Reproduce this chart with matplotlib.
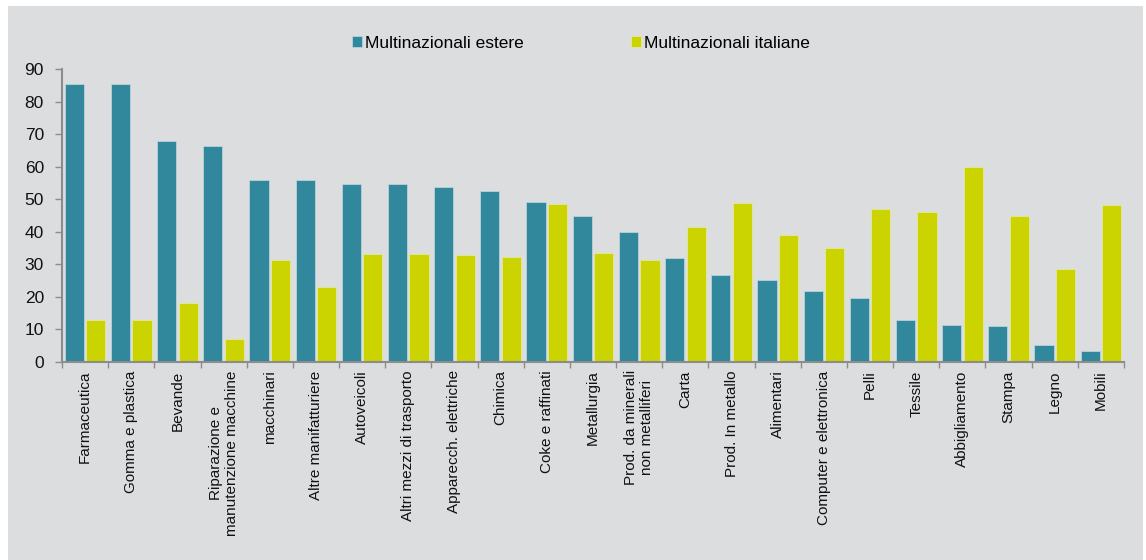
import numpy as np
import matplotlib.pyplot as plt
from matplotlib.patches import Rectangle

plt.rcParams['font.family'] = ['Liberation Sans', 'DejaVu Sans']

settori = ['Farmaceutica', 'Gomma e plastica', 'Bevande',
           'Riparazione e\nmanutenzione macchine', 'macchinari',
           'Altre manifatturiere', 'Autoveicoli', 'Altri mezzi di trasporto',
           'Apparecch. elettriche', 'Chimica', 'Coke e raffinati',
           'Metallurgia', 'Prod. da minerali\nnon metalliferi', 'Carta',
           'Prod. In metallo', 'Alimentari', 'Computer e elettronica',
           'Pelli', 'Tessile', 'Abbigliamento', 'Stampa', 'Legno', 'Mobili']
estere = [85.4, 85.4, 68.0, 66.3, 56.0, 55.8, 54.7, 54.7, 53.9, 52.4, 49.2,
          44.7, 39.8, 32.0, 26.8, 25.2, 21.8, 19.6, 13.0, 11.4, 11.0, 5.2, 3.5]
italiane = [13.0, 13.0, 18.0, 7.2, 31.3, 23.0, 33.1, 33.1, 32.8, 32.2, 48.4,
            33.4, 31.4, 41.5, 48.7, 38.9, 34.9, 47.0, 46.2, 59.8, 45.0, 28.6, 48.2]
serie = ['Multinazionali estere', 'Multinazionali italiane']

teal = '#31879c'
giallo = '#cbd300'
sfondo = '#dcdddf'
asse = '#8c8c8c'

fig = plt.figure(figsize=(11.46, 5.6), dpi=100)
fig.patch.set_facecolor('white')
# grey panel behind the whole chart
fig.patches.append(Rectangle((8 / 1146, 0), 1135 / 1146, 554 / 560,
                             transform=fig.transFigure, facecolor=sfondo,
                             edgecolor='none', zorder=-10))

ax = fig.add_axes([62 / 1146, 1 - 362 / 560, 1062 / 1146, 293 / 560])
ax.set_facecolor('none')

x = np.arange(len(settori))
w = 0.415
b1 = ax.bar(x - 0.233, estere, w, color=teal, edgecolor='#b9d3da',
            linewidth=0.6, label=serie[0])
b2 = ax.bar(x + 0.233, italiane, w, color=giallo, edgecolor='#e4e89a',
            linewidth=0.6, label=serie[1])

ax.set_xlim(-0.5, len(settori) - 0.5)
ax.set_ylim(0, 90)
ax.set_yticks(range(0, 91, 10))
ax.tick_params(axis='y', length=5, width=1, color=asse, labelsize=12.5,
               pad=8, labelcolor='#111111')

# category labels sit at the centre, ticks mark the boundaries
ax.set_xticks(x)
ax.set_xticklabels(settori, rotation=90, ha='center', va='top',
                   multialignment='center', fontsize=11, color='#111111')
ax.tick_params(axis='x', which='major', length=0, pad=6)
ax.set_xticks(np.arange(-0.5, len(settori), 1), minor=True)
ax.tick_params(axis='x', which='minor', length=4, width=1, color=asse)

for s in ['top', 'right']:
    ax.spines[s].set_visible(False)
for s in ['left', 'bottom']:
    ax.spines[s].set_color(asse)
    ax.spines[s].set_linewidth(1.5)

fig.legend(handles=[b1, b2], labels=serie, ncol=2, frameon=False,
           loc='center left', bbox_to_anchor=(352 / 1146, 1 - 43 / 560),
           fontsize=12.5, handlelength=0.55, handleheight=0.55,
           handletextpad=0.2, columnspacing=6.2, borderpad=0,
           borderaxespad=0)

fig.savefig('out.png', dpi=100, facecolor=fig.get_facecolor())
